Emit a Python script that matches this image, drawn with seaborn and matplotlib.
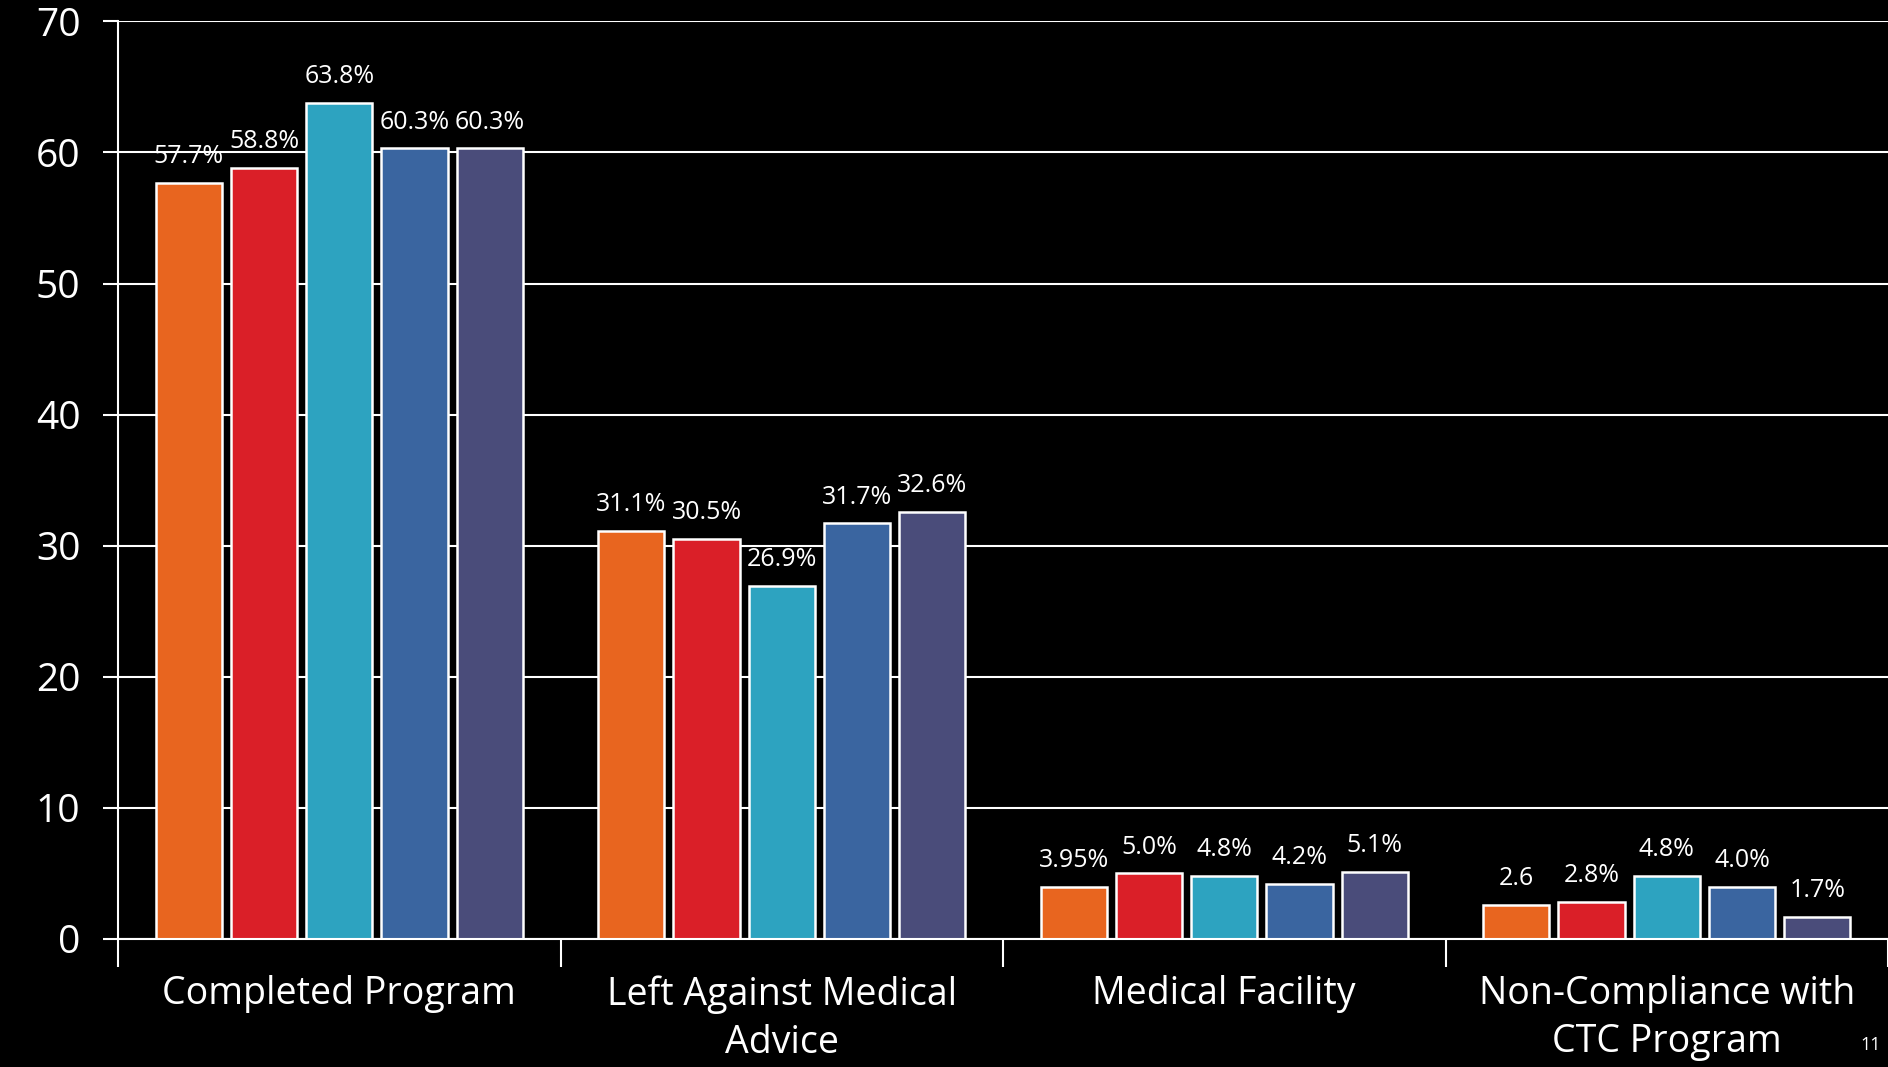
import pandas as pd
import numpy as np
import matplotlib
matplotlib.use('Agg')
import matplotlib.pyplot as plt
import seaborn as sns

# Dados do gráfico
categorias = ['Completed Program', 'Left Against Medical\nAdvice',
              'Medical Facility', 'Non-Compliance with\nCTC Program']
series = ['S1', 'S2', 'S3', 'S4', 'S5']
valores = [
    [57.7, 58.8, 63.8, 60.3, 60.3],   # Completed Program
    [31.1, 30.5, 26.9, 31.7, 32.6],   # Left Against Medical Advice
    [3.95, 5.0, 4.8, 4.2, 5.1],       # Medical Facility
    [2.6, 2.8, 4.8, 4.0, 1.7],        # Non-Compliance
]
rotulos = [
    ['57.7%', '58.8%', '63.8%', '60.3%', '60.3%'],
    ['31.1%', '30.5%', '26.9%', '31.7%', '32.6%'],
    ['3.95%', '5.0%', '4.8%', '4.2%', '5.1%'],
    ['2.6', '2.8%', '4.8%', '4.0%', '1.7%'],
]
cores = ['#E8651F', '#DA1F28', '#2DA3C0', '#3A65A0', '#4A4C7A']
yticks = [0, 10, 20, 30, 40, 50, 60, 70]

linhas = []
for i, c in enumerate(categorias):
    for j, s in enumerate(series):
        linhas.append({'categoria': c, 'serie': s, 'valor': valores[i][j]})
df = pd.DataFrame(linhas)

sns.set_style('dark')
plt.rcParams['font.family'] = ['Open Sans', 'DejaVu Sans']

fig = plt.figure(figsize=(18.88, 10.67), dpi=100, facecolor='black')
ax = fig.add_axes([0.0625, 0.12, 0.9375, 0.86])
ax.set_facecolor('black')

sns.barplot(data=df, x='categoria', y='valor', hue='serie', palette=cores,
            saturation=1, edgecolor='white', linewidth=1.8, width=0.85,
            gap=0.12, legend=False, ax=ax)

# Rótulos das barras
for j, cont in enumerate(ax.containers):
    ax.bar_label(cont, labels=[rotulos[i][j] for i in range(len(categorias))],
                 padding=10, color='white', fontsize=18)

ax.set_ylim(0, 70)
ax.set_xlim(-0.5, 3.5)
ax.set_yticks(yticks)
ax.grid(axis='y', color='white', linewidth=1.5)
ax.grid(axis='x', visible=False)
ax.set_axisbelow(True)

ax.set_xlabel('')
ax.set_ylabel('')
for lado in ['top', 'right']:
    ax.spines[lado].set_visible(False)
for lado in ['left', 'bottom']:
    ax.spines[lado].set_visible(True)
    ax.spines[lado].set_color('white')
    ax.spines[lado].set_linewidth(1.5)

ax.tick_params(axis='y', colors='white', labelsize=28, length=11, width=1.5,
               pad=16, left=True)
ax.tick_params(axis='x', which='major', colors='white', labelsize=27, length=0,
               pad=26)
ax.set_xticks(np.arange(-0.5, 4, 1), minor=True)
ax.tick_params(axis='x', which='minor', colors='white', length=20, width=1.5,
               bottom=True)
for t in ax.get_xticklabels():
    t.set_linespacing(1.35)

fig.text(0.991, 0.012, '11', color='white', fontsize=13, ha='center', va='bottom')

plt.savefig('out.png', dpi=100, facecolor='black')
